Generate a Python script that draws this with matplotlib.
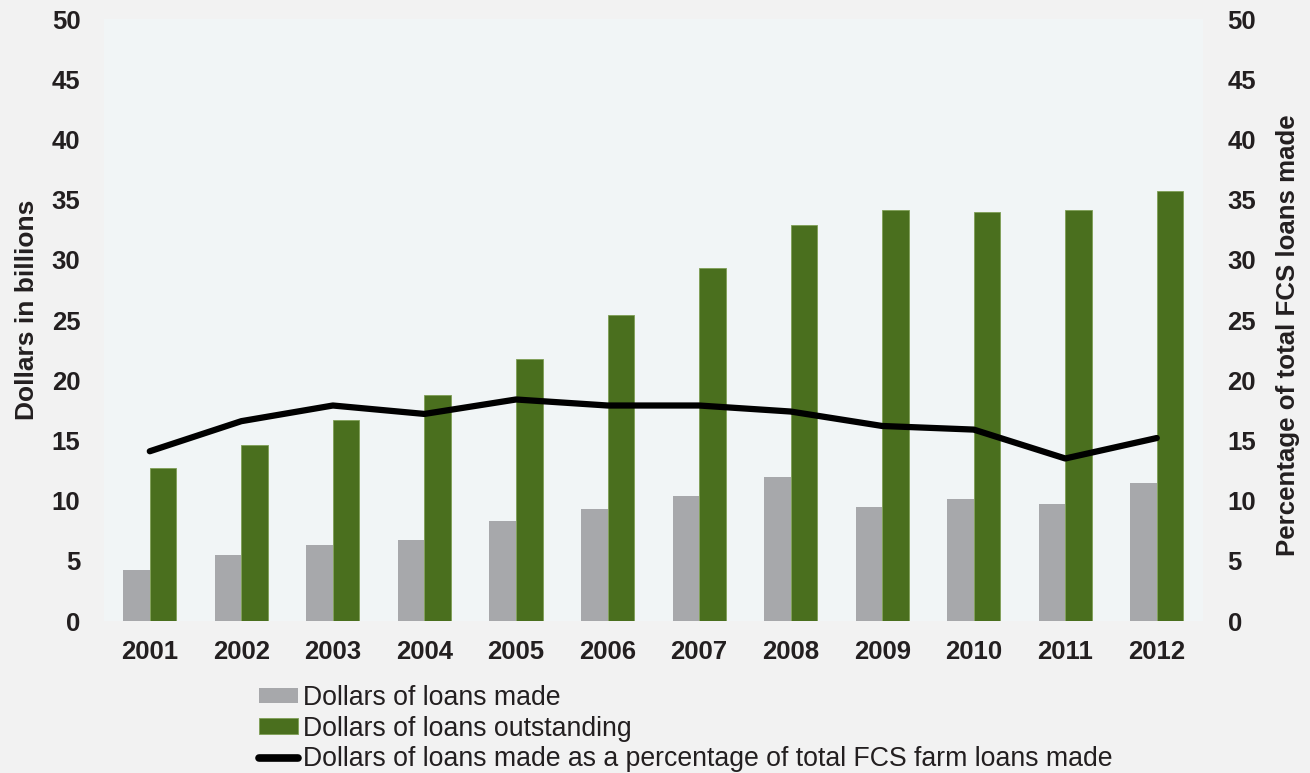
import numpy as np
import matplotlib.pyplot as plt

plt.rcParams["font.family"] = ["Liberation Sans", "DejaVu Sans"]

years = ["2001", "2002", "2003", "2004", "2005", "2006",
         "2007", "2008", "2009", "2010", "2011", "2012"]
loans_made = [4.2, 5.5, 6.3, 6.7, 8.3, 9.3, 10.4, 12.0, 9.5, 10.1, 9.7, 11.5]
loans_outstanding = [12.7, 14.6, 16.7, 18.8, 21.8, 25.4, 29.3, 32.9, 34.1, 34.0, 34.1, 35.7]
pct_of_fcs = [14.1, 16.6, 17.9, 17.2, 18.4, 17.9, 17.9, 17.4, 16.2, 15.9, 13.5, 15.2]

gray = "#a7a8ab"
green = "#4a6f1e"
bg = "#f2f2f2"
plot_bg = "#f1f5f6"
ink = "#231f20"

fig = plt.figure(figsize=(13.1, 7.73), dpi=100, facecolor=bg)
ax = fig.add_axes([0.0794, 0.1966, 0.8386, 0.7788])
ax.set_facecolor(plot_bg)

x = np.arange(len(years))
w = 0.29
ax.bar(x - w / 2, loans_made, width=w, color=gray, label="Dollars of loans made")
ax.bar(x + w / 2, loans_outstanding, width=w, color=green,
       edgecolor="#7f9f55", linewidth=0.6, label="Dollars of loans outstanding")

ax.set_xlim(-0.5, len(years) - 0.5)
ax.set_ylim(0, 50)
ax.set_yticks(range(0, 51, 5))
ax.set_xticks(x)
ax.set_xticklabels(years)
for s in ax.spines.values():
    s.set_visible(False)
ax.tick_params(length=0, labelsize=18.5, colors=ink)
ax.tick_params(axis="y", pad=17)
ax.tick_params(axis="x", pad=14)
for lbl in ax.get_xticklabels() + ax.get_yticklabels():
    lbl.set_fontweight("bold")
ax.set_ylabel("Dollars in billions", fontsize=19, fontweight="bold",
              color=ink, labelpad=9)
ax.yaxis.label.set_y(0.517)

# percentage line on the secondary axis
ax2 = ax.twinx()
ax2.plot(x, pct_of_fcs, color="black", linewidth=4.5, solid_capstyle="round",
         label="Dollars of loans made as a percentage of total FCS farm loans made")
ax2.set_ylim(0, 50)
ax2.set_yticks(range(0, 51, 5))
for s in ax2.spines.values():
    s.set_visible(False)
ax2.tick_params(length=0, labelsize=18.5, colors=ink, pad=18)
for lbl in ax2.get_yticklabels():
    lbl.set_fontweight("bold")
ax2.set_ylabel("Percentage of total FCS loans made", fontsize=18.6,
               fontweight="bold", color=ink, labelpad=14)
ax2.yaxis.label.set_y(0.475)

h1, l1 = ax.get_legend_handles_labels()
h2, l2 = ax2.get_legend_handles_labels()
leg = fig.legend(h1 + h2, l1 + l2, loc="upper left", bbox_to_anchor=(0.198, 0.114),
                 frameon=False, fontsize=19.2, handlelength=1.45, handleheight=0.5,
                 handletextpad=0.2, labelspacing=0.175, borderaxespad=0,
                 borderpad=0, labelcolor=ink)
leg.get_lines()[0].set_linewidth(5.5)

fig.savefig("out.png", dpi=100, facecolor=bg)
